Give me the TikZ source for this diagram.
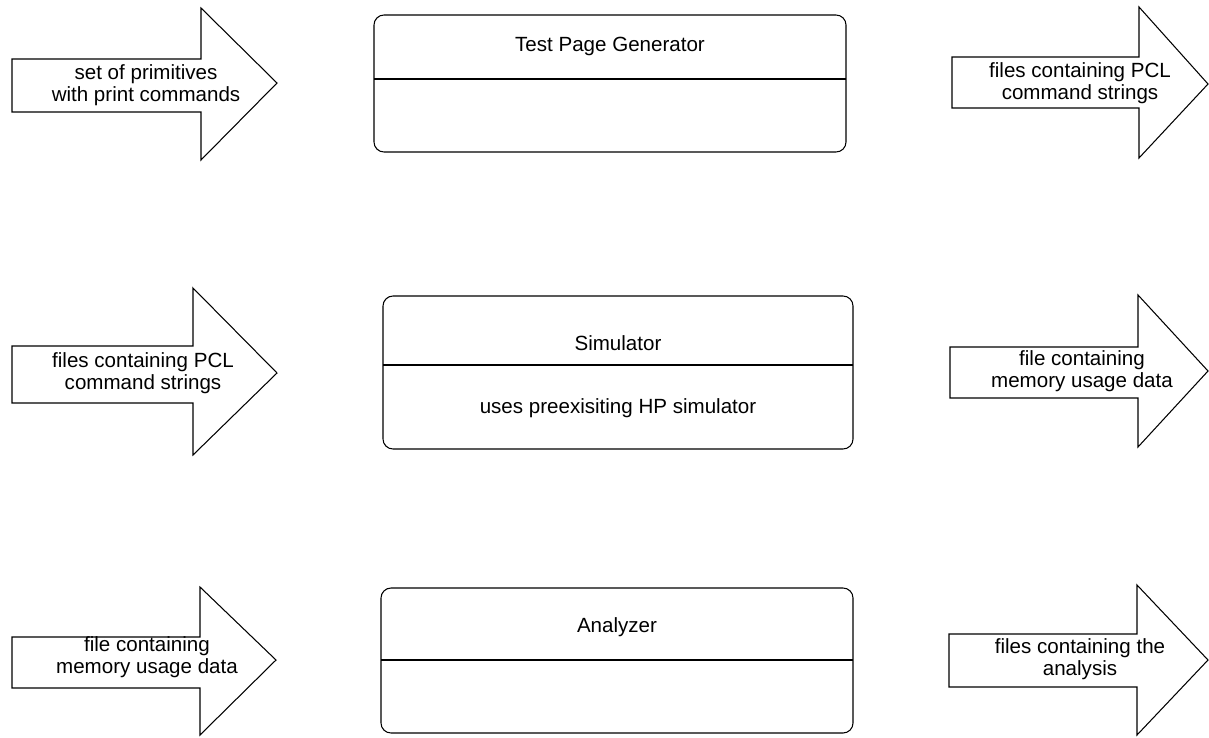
\documentclass[tikz,border=0pt]{standalone}
\usepackage{fontspec}
\setmainfont{Liberation Sans}

\tikzset{
  outline/.style={black, line width=0.6pt, line join=miter},
  frame/.style={black, line width=0.6pt, rounded corners=0.2cm},
  label/.style={align=center, inner sep=0pt, font=\fontsize{11.7}{12.8}\selectfont},
}

\begin{document}
\begin{tikzpicture}[x=0.02cm, y=-0.02cm]
  \useasboundingbox (0,0) rectangle (1209,737);

  % inputs
  \draw[outline] (12,59) -- (201,59) -- (201,8) -- (277,83) -- (201,160) -- (201,112) -- (12,112) -- cycle;
  \node[label] (inGen) at (146,85) {set of primitives\\with print commands};
  \draw[outline] (12,346) -- (193,346) -- (193,288) -- (277,373) -- (193,455) -- (193,403) -- (12,403) -- cycle;
  \node[label] (inSim) at (143,373) {files containing PCL\\command strings};
  \draw[outline] (12,637) -- (200,637) -- (200,587) -- (276,660) -- (200,735) -- (200,688) -- (12,688) -- cycle;
  \node[label] (inAna) at (147,657) {file containing\\memory usage data};

  % components
  \draw[frame] (374,15) rectangle (846,152);
  \draw[outline] (374,79) -- (846,79);
  \node[label] (gen) at (610,46) {Test Page Generator};

  \draw[frame] (383,296) rectangle (853,449);
  \draw[outline] (383,365) -- (853,365);
  \node[label] (sim) at (618,343) {Simulator};
  \node[label] (simNote) at (618,408) {uses preexisiting HP simulator};

  \draw[frame] (381,588) rectangle (853,733);
  \draw[outline] (381,660) -- (853,660);
  \node[label] (ana) at (617,627) {Analyzer};

  % outputs
  \draw[outline] (952,57) -- (1139,57) -- (1139,7) -- (1208,84) -- (1139,158) -- (1139,108) -- (952,108) -- cycle;
  \node[label] (outGen) at (1080,83) {files containing PCL\\command strings};
  \draw[outline] (950,347) -- (1138,347) -- (1138,295) -- (1208,371) -- (1138,447) -- (1138,398) -- (950,398) -- cycle;
  \node[label] (outSim) at (1082,371) {file containing\\memory usage data};
  \draw[outline] (949,634) -- (1137,634) -- (1137,585) -- (1208,660) -- (1137,735) -- (1137,687) -- (949,687) -- cycle;
  \node[label] (outAna) at (1080,659) {files containing the\\analysis};
\end{tikzpicture}
\end{document}
